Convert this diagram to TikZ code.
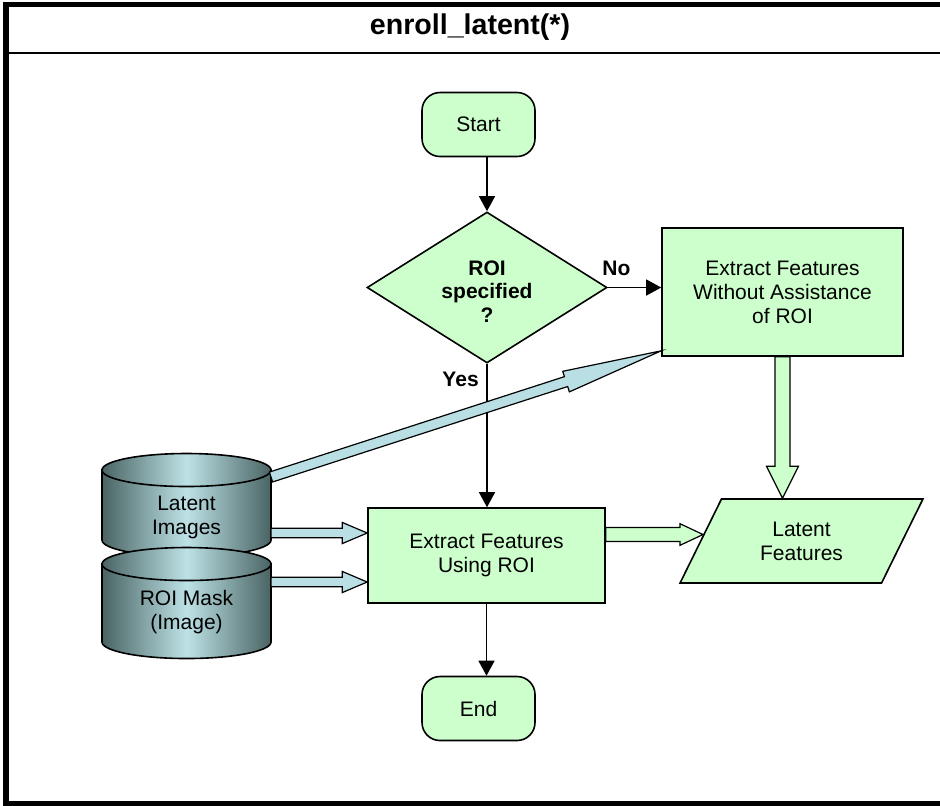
\documentclass[tikz,border=0pt]{standalone}
\usepackage{fontspec}
\setmainfont{Liberation Sans}
\usetikzlibrary{arrows.meta, calc, positioning, shapes.geometric}

\definecolor{boxgreen}{HTML}{CCFFCC}
\definecolor{arrowblue}{HTML}{B9DFE4}
\definecolor{cyldark}{HTML}{4A6464}
\definecolor{cyllight}{HTML}{BDE2E6}

% block arrow: [style]{from}{to}{half shaft}{half head}{head length}
\newcommand{\fatarrow}[6][]{%
  \draw[line width=0.6pt, #1] let \p1 = ($(#3)-(#2)$), \n1 = {atan2(\y1,\x1)} in
    ($(#2)+(\n1+90:#4)$) -- ($(#3)+(\n1+180:#6)+(\n1+90:#4)$)
    -- ($(#3)+(\n1+180:#6)+(\n1+90:#5)$) -- (#3)
    -- ($(#3)+(\n1+180:#6)+(\n1-90:#5)$) -- ($(#3)+(\n1+180:#6)+(\n1-90:#4)$)
    -- ($(#2)+(\n1-90:#4)$) -- cycle;}

\begin{document}
\begin{tikzpicture}[x=0.5pt, y=-0.5pt,% one unit = one pixel, y downwards
          > = {Triangle[length=7.5pt, width=8pt]},
every node/.style = {font=\fontsize{10.5}{12}\selectfont},
  term/.style = {draw, fill=boxgreen, line width=0.8pt, rounded corners=9pt,
                 minimum width=56.5pt, minimum height=32pt},
  proc/.style = {draw, fill=boxgreen, line width=0.8pt, align=center,
                 inner sep=0pt},
decide/.style = {diamond, draw, fill=boxgreen, line width=0.8pt,
                 inner sep=0pt, minimum width=120pt, minimum height=75.5pt},
  data/.style = {trapezium, trapezium left angle=61, trapezium right angle=119,
                 trapezium stretches=true, draw, fill=boxgreen, line width=0.8pt,
                 align=center, inner sep=0pt, minimum width=121.5pt, minimum height=42pt},
   lbl/.style = {font=\fontsize{10.5}{11.8}\selectfont\bfseries},
  flow/.style = {->, line width=0.65pt},
  blue/.style = {fill=arrowblue},
 green/.style = {fill=boxgreen},
 frame/.style = {line width=2.6pt}
                        ]
    \useasboundingbox (0,0) rectangle (940,805);

    % frame and title
    \draw[frame] (945,4.5) -- (6,4.5) -- (6,804) -- (945,804);
    \draw[line width=1.2pt] (6,53) -- (945,53);
    \node (title) at (470,27) {\fontsize{14.3}{16}\selectfont\bfseries enroll\_latent(*)};

    % flow chart
    \node (start)  [term]   at (478.5,124.5) {Start};
    \node (dia)    [decide] at (487,287.5) {};
    \node (diatxt) [lbl, align=center] at ($(dia.center)+(0,4)$) {ROI\\specified\\?};
    \node (noroi)  [proc, minimum width=120.5pt, minimum height=64pt]
                            at (782.5,292) {Extract Features\\Without Assistance\\of ROI};
    \node (yesroi) [proc, minimum width=118.5pt, minimum height=47.5pt]
                            at (486.5,555.5) {Extract Features\\Using ROI};
    \node (feat)   [data]   at (801.5,541) {Latent\\Features};
    \node (end)    [term]   at (478.5,708.5) {End};

    % data stores
    \foreach \yt/\yb in {470/540, 564/642}
    {
        \shadedraw[left color=cyldark, right color=cyldark, middle color=cyllight, line width=0.8pt]
            (102,\yt) -- (102,\yb) arc[start angle=180, end angle=0, x radius=84.5, y radius=16.5]
            -- (271,\yt) -- cycle;
        \shadedraw[left color=cyldark, right color=cyldark, middle color=cyllight, line width=0.8pt]
            (186.5,\yt) ellipse[x radius=84.5, y radius=16.5];
    }
    \node (lat)  [align=center] at (186.5,517) {Latent\\Images};
    \node (mask) [align=center] at (186.5,612) {ROI Mask\\(Image)};

    % connectors
    \draw[flow] (start.south -| dia.north) -- (dia.north);
    \draw[flow] (dia.east) -- (noroi.west |- dia.east) node[lbl, pos=0.16, above=2pt] {No};
    \draw[flow] (dia.south) -- (yesroi.north -| dia.south) node[lbl, pos=0.11, left=0.5pt] {Yes};
    \draw[flow] (yesroi.south) -- (yesroi.south |- end.north);

    % block arrows
    \coordinate (latA)  at (271,477);
    \coordinate (latB)  at (271,533);
    \coordinate (maskA) at (271,582);
    \coordinate (noin)  at ($(noroi.south west)+(0,-6)$);
    \coordinate (useA)  at ($(yesroi.west)+(0,-22.5)$);
    \coordinate (useB)  at ($(yesroi.west)+(0,26.5)$);
    \coordinate (useout) at ($(yesroi.east)+(0,-21)$);
    \coordinate (featin) at (703,534.5);
    \coordinate (feattop) at (noroi.south |- feat.north);

    \fatarrow[blue]{latA}{noin}{2.6pt}{5.4pt}{50pt}
    \fatarrow[blue]{latB}{useA}{2.4pt}{5.3pt}{12.5pt}
    \fatarrow[blue]{maskA}{useB}{2.4pt}{5.3pt}{12.5pt}
    \fatarrow[green]{useout}{featin}{3.5pt}{5.4pt}{11.5pt}
    \fatarrow[green]{noroi.south}{feattop}{3.75pt}{8pt}{16pt}
\end{tikzpicture}
\end{document}
